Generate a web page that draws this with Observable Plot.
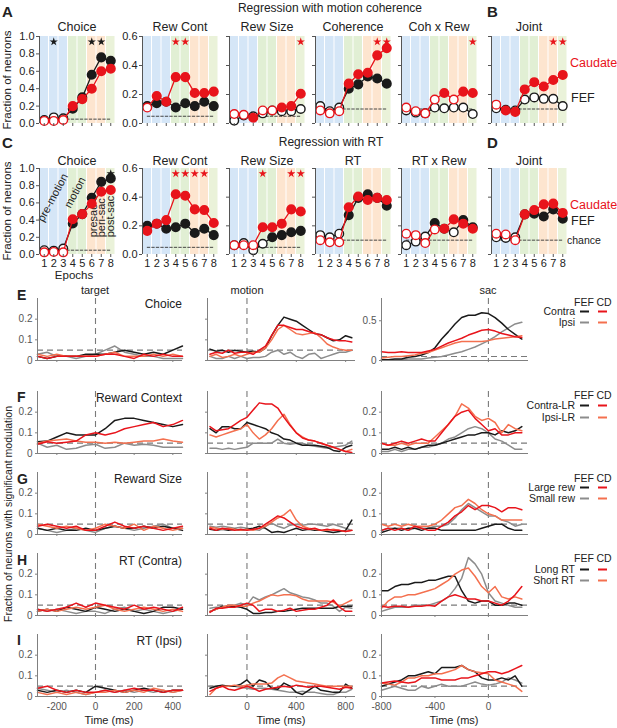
<!DOCTYPE html>
<html><head><meta charset="utf-8">
<script src="https://cdn.jsdelivr.net/npm/d3@7"></script>
<script src="https://cdn.jsdelivr.net/npm/@observablehq/plot@0.6"></script>
<style>
body{margin:0;background:#fff;}
#fig{position:relative;width:617px;height:728px;overflow:hidden;font-family:"Liberation Sans",Arial,Helvetica,sans-serif;}
#fig > div.p{position:absolute;}
#fig > svg.ov{position:absolute;left:0;top:0;}
</style></head><body><div id="fig"></div>
<script>
// ---------------- Epoch panels (A-D) ----------------
const epochs = [1,2,3,4,5,6,7,8];
const bandColors = ["#d5e6f7","#d5e6f7","#d5e6f7","#e1efd4","#e1efd4","#fde5cf","#fde5cf","#eaf2d9"];
const epochText = ["pre-motion","motion","presac","peri-sac","post-sac"];
const chanceA = [0.05,0.05,0.05,0.1,0.1,0.1];
const chanceC = [0.05,0.05,0.05,0.1,0.1,0.1];

const A_choice_fef = [0.04,0.07,0.06,0.17,0.30,0.56,0.76,0.72];
const A_choice_fef_sig = [0,0,0,1,1,1,1,1];
const A_choice_cd = [0.03,0.03,0.04,0.20,0.28,0.40,0.60,0.63];
const A_choice_cd_sig = [0,0,0,1,1,1,1,1];
const A_choice_starsFef = [2,6,7];
const A_choice_starsCd = [];

const A_rewcont_fef = [0.12,0.14,0.15,0.11,0.14,0.12,0.15,0.12];
const A_rewcont_fef_sig = [1,1,1,1,1,1,1,1];
const A_rewcont_cd = [0.11,0.19,0.15,0.32,0.32,0.21,0.21,0.22];
const A_rewcont_cd_sig = [0,1,1,1,1,1,1,1];
const A_rewcont_starsCd = [4,5];

const A_rewsize_fef = [0.02,0.055,0.05,0.07,0.09,0.085,0.085,0.10];
const A_rewsize_fef_sig = [0,0,0,0,0,0,0,0];
const A_rewsize_cd = [0.065,0.06,0.04,0.09,0.09,0.11,0.12,0.205];
const A_rewsize_cd_sig = [0,0,1,0,0,1,1,1];
const A_rewsize_starsCd = [8];

const A_coh_fef = [0.12,0.085,0.11,0.24,0.27,0.325,0.31,0.275];
const A_coh_fef_sig = [0,0,0,1,1,1,1,1];
const A_coh_cd = [0.09,0.07,0.085,0.275,0.34,0.35,0.47,0.52];
const A_coh_cd_sig = [0,0,0,1,1,1,1,1];
const A_coh_starsCd = [7,8];

const A_cohrew_fef = [0.09,0.075,0.07,0.11,0.105,0.11,0.11,0.065];
const A_cohrew_fef_sig = [0,0,0,0,0,0,0,0];
const A_cohrew_cd = [0.11,0.085,0.07,0.165,0.21,0.165,0.22,0.21];
const A_cohrew_cd_sig = [0,0,0,0,1,0,1,1];
const A_cohrew_starsCd = [8];

const B_joint_fef = [0.105,0.095,0.09,0.165,0.18,0.17,0.17,0.12];
const B_joint_fef_sig = [0,0,0,0,0,0,0,0];
const B_joint_cd = [0.13,0.09,0.08,0.235,0.285,0.255,0.30,0.335];
const B_joint_cd_sig = [0,1,1,1,1,1,1,1];
const B_joint_starsCd = [7,8];

const C_choice_fef = [0.05,0.045,0.07,0.36,0.47,0.66,0.845,0.885];
const C_choice_fef_sig = [0,0,0,1,1,1,1,1];
const C_choice_cd = [0.025,0.03,0.025,0.41,0.47,0.59,0.73,0.75];
const C_choice_cd_sig = [0,0,0,1,1,1,1,1];
const C_choice_starsFef = [8];

const C_rewcont_fef = [0.20,0.215,0.18,0.19,0.215,0.15,0.18,0.135];
const C_rewcont_fef_sig = [1,1,1,1,1,1,1,1];
const C_rewcont_cd = [0.165,0.215,0.24,0.42,0.41,0.315,0.31,0.22];
const C_rewcont_cd_sig = [1,1,1,1,1,1,1,1];
const C_rewcont_starsCd = [4,5,6,7];

const C_rewsize_fef = [0.065,0.08,0.03,0.075,0.12,0.135,0.155,0.165];
const C_rewsize_fef_sig = [0,0,0,0,1,1,1,1];
const C_rewsize_cd = [0.065,0.065,0.065,0.19,0.19,0.215,0.315,0.30];
const C_rewsize_cd_sig = [0,0,0,1,1,1,1,1];
const C_rewsize_starsCd = [4,7,8];

const C_rt_fef = [0.135,0.12,0.145,0.275,0.395,0.42,0.395,0.34];
const C_rt_fef_sig = [0,0,0,1,1,1,1,1];
const C_rt_cd = [0.10,0.085,0.085,0.33,0.405,0.38,0.395,0.38];
const C_rt_cd_sig = [0,0,0,1,1,1,1,1];

const C_rtrew_fef = [0.065,0.09,0.125,0.22,0.18,0.155,0.24,0.19];
const C_rtrew_fef_sig = [0,0,0,1,0,0,1,1];
const C_rtrew_cd = [0.145,0.135,0.08,0.175,0.18,0.245,0.215,0.18];
const C_rtrew_cd_sig = [0,0,0,0,1,1,1,1];

const D_joint_fef = [0.12,0.115,0.12,0.28,0.285,0.265,0.315,0.25];
const D_joint_fef_sig = [0,0,0,1,1,1,1,1];
const D_joint_cd = [0.145,0.14,0.10,0.28,0.31,0.35,0.355,0.29];
const D_joint_cd_sig = [0,0,0,1,1,1,1,1];

// ---------------- Time-course panels (E-I) ----------------
const T_tgt = [-300,-250,-200,-150,-100,-50,0,50,100,150,200,250,300,350,400,450];
const T_mot = [-300,-250,-200,-150,-100,-50,0,50,100,150,200,250,300,350,400,450,500,550,600,650,700,750,800,850];
const T_sac = [-800,-750,-700,-650,-600,-550,-500,-450,-400,-350,-300,-250,-200,-150,-100,-50,0,50,100,150,200,250];

// fef1 = FEF contra/LR/large/long, fef2 = FEF ipsi/small/short, cd1, cd2 same for caudate
const E_tgt_fef1 = [0.02,0.01,0.02,0.02,0.02,0.03,0.03,0.03,0.04,0.05,0.04,0.03,0.04,0.03,0.05,0.07];
const E_tgt_fef2 = [0.03,0.04,0.02,0.02,0.01,0.02,0.03,0.05,0.07,0.04,0.03,0.02,0.02,0.01,0.01,0.01];
const E_tgt_cd1 = [0.02,0.01,0.02,0.02,0.02,0.02,0.02,0.03,0.03,0.02,0.01,0.03,0.02,0.03,0.02,0.02];
const E_tgt_cd2 = [0.03,0.02,0.03,0.02,0.02,0.02,0.02,0.03,0.04,0.02,0.02,0.02,0.03,0.02,0.03,0.02];
const E_mot_fef1 = [0.055,0.045,0.05,0.04,0.05,0.045,0.04,0.045,0.04,0.06,0.12,0.17,0.21,0.20,0.19,0.17,0.15,0.13,0.125,0.11,0.095,0.10,0.12,0.11];
const E_mot_fef2 = [0.02,0.01,0.01,0.02,0.01,0.02,0.01,0.015,0.015,0.02,0.04,0.05,0.03,0.04,0.02,0.01,0.03,0.035,0.01,0.02,0.03,0.04,0.04,0.05];
const E_mot_cd1 = [0.03,0.04,0.035,0.05,0.035,0.04,0.04,0.03,0.05,0.07,0.12,0.17,0.17,0.16,0.15,0.15,0.14,0.13,0.125,0.11,0.10,0.095,0.095,0.09];
const E_mot_cd2 = [0.02,0.03,0.015,0.02,0.03,0.02,0.03,0.04,0.04,0.06,0.10,0.15,0.17,0.15,0.13,0.125,0.13,0.135,0.11,0.08,0.065,0.055,0.05,0.05];
const E_sac_fef1 = [0.01,0.01,0.02,0.02,0.04,0.05,0.07,0.10,0.16,0.27,0.36,0.46,0.54,0.57,0.57,0.60,0.59,0.54,0.47,0.39,0.33,0.27];
const E_sac_fef2 = [0.01,0.01,0.01,0.01,0.02,0.02,0.02,0.03,0.04,0.05,0.07,0.09,0.11,0.14,0.17,0.21,0.25,0.30,0.36,0.41,0.46,0.48];
const E_sac_cd1 = [0.11,0.10,0.10,0.11,0.10,0.10,0.10,0.12,0.14,0.18,0.22,0.25,0.28,0.32,0.35,0.38,0.39,0.37,0.34,0.32,0.30,0.29];
const E_sac_cd2 = [0.03,0.04,0.05,0.05,0.06,0.07,0.09,0.10,0.13,0.16,0.19,0.22,0.24,0.24,0.24,0.24,0.25,0.27,0.28,0.29,0.30,0.31];

const F_tgt_fef1 = [0.057,0.06,0.08,0.10,0.09,0.09,0.09,0.12,0.16,0.17,0.17,0.16,0.15,0.14,0.13,0.14];
const F_tgt_fef2 = [0.05,0.03,0.04,0.02,0.025,0.04,0.045,0.025,0.03,0.05,0.04,0.045,0.04,0.03,0.03,0.03];
const F_tgt_cd1 = [0.045,0.057,0.05,0.055,0.06,0.09,0.10,0.09,0.10,0.12,0.13,0.14,0.15,0.13,0.14,0.16];
const F_tgt_cd2 = [0.05,0.06,0.065,0.07,0.06,0.055,0.055,0.05,0.055,0.05,0.055,0.06,0.06,0.07,0.06,0.055];
const F_mot_fef1 = [0.12,0.10,0.13,0.13,0.12,0.12,0.15,0.14,0.13,0.12,0.10,0.09,0.07,0.065,0.05,0.04,0.04,0.04,0.035,0.03,0.015,0.01,0.03,0.04];
const F_mot_fef2 = [0.025,0.025,0.02,0.025,0.02,0.025,0.03,0.05,0.05,0.05,0.05,0.07,0.05,0.045,0.05,0.05,0.04,0.035,0.03,0.025,0.03,0.035,0.04,0.06];
const F_mot_cd1 = [0.13,0.11,0.115,0.12,0.14,0.16,0.175,0.21,0.245,0.24,0.24,0.22,0.175,0.135,0.10,0.075,0.065,0.06,0.05,0.04,0.03,0.02,0.01,0.005];
const F_mot_cd2 = [0.09,0.08,0.09,0.10,0.11,0.12,0.14,0.10,0.07,0.09,0.12,0.16,0.19,0.14,0.10,0.08,0.065,0.06,0.05,0.04,0.03,0.02,0.01,0.02];
const F_sac_fef1 = [0.02,0.02,0.03,0.02,0.03,0.02,0.03,0.04,0.04,0.05,0.06,0.07,0.08,0.09,0.09,0.10,0.10,0.09,0.11,0.10,0.11,0.13];
const F_sac_fef2 = [0.01,0.01,0.02,0.01,0.02,0.02,0.03,0.03,0.04,0.05,0.07,0.08,0.10,0.12,0.13,0.12,0.10,0.07,0.06,0.04,0.02,0.02];
const F_sac_cd1 = [0.05,0.04,0.05,0.06,0.05,0.06,0.07,0.06,0.06,0.10,0.14,0.18,0.20,0.21,0.17,0.14,0.11,0.12,0.09,0.09,0.10,0.10];
const F_sac_cd2 = [0.05,0.04,0.04,0.05,0.04,0.05,0.05,0.05,0.08,0.11,0.14,0.18,0.24,0.22,0.18,0.16,0.17,0.15,0.10,0.14,0.12,0.11];

const G_tgt_fef1 = [0.03,0.02,0.03,0.02,0.02,0.03,0.02,0.03,0.04,0.03,0.03,0.04,0.03,0.04,0.03,0.02];
const G_tgt_fef2 = [0.03,0.02,0.01,0.02,0.03,0.02,0.01,0.03,0.04,0.03,0.02,0.03,0.04,0.05,0.03,0.03];
const G_tgt_cd1 = [0.04,0.05,0.04,0.03,0.04,0.02,0.02,0.04,0.06,0.04,0.03,0.04,0.03,0.02,0.03,0.04];
const G_tgt_cd2 = [0.05,0.04,0.03,0.04,0.03,0.02,0.03,0.05,0.04,0.03,0.05,0.02,0.04,0.03,0.02,0.03];
const G_mot_fef1 = [0.025,0.02,0.025,0.02,0.025,0.02,0.025,0.03,0.04,0.03,0.01,0.015,0.01,0.02,0.03,0.02,0.025,0.02,0.02,0.015,0.01,0.015,0.02,0.07];
const G_mot_fef2 = [0.04,0.035,0.04,0.035,0.03,0.035,0.03,0.025,0.02,0.04,0.055,0.04,0.03,0.045,0.05,0.045,0.05,0.05,0.045,0.04,0.05,0.04,0.03,0.02];
const G_mot_cd1 = [0.03,0.02,0.03,0.025,0.02,0.025,0.02,0.025,0.03,0.05,0.07,0.09,0.08,0.06,0.04,0.03,0.025,0.03,0.02,0.025,0.02,0.02,0.015,0.02];
const G_mot_cd2 = [0.035,0.03,0.025,0.03,0.025,0.02,0.025,0.02,0.03,0.04,0.06,0.08,0.095,0.12,0.07,0.04,0.03,0.025,0.02,0.02,0.025,0.02,0.015,0.02];
const G_sac_fef1 = [0.01,0.02,0.03,0.02,0.03,0.03,0.02,0.03,0.03,0.02,0.02,0.02,0.02,0.02,0.02,0.03,0.04,0.05,0.05,0.03,0.02,0.02];
const G_sac_fef2 = [0.02,0.03,0.03,0.03,0.02,0.03,0.03,0.03,0.04,0.04,0.05,0.08,0.12,0.15,0.13,0.11,0.09,0.09,0.07,0.06,0.04,0.05];
const G_sac_cd1 = [0.02,0.03,0.02,0.03,0.02,0.04,0.03,0.02,0.02,0.04,0.06,0.09,0.11,0.14,0.12,0.14,0.14,0.13,0.11,0.13,0.13,0.12];
const G_sac_cd2 = [0.05,0.04,0.05,0.04,0.05,0.04,0.04,0.04,0.05,0.07,0.10,0.13,0.14,0.17,0.15,0.12,0.10,0.09,0.07,0.07,0.07,0.07];

const H_tgt_fef1 = [0.02,0.03,0.02,0.04,0.03,0.02,0.04,0.03,0.02,0.03,0.02,0.01,0.02,0.04,0.04,0.03];
const H_tgt_fef2 = [0.03,0.02,0.03,0.02,0.01,0.02,0.02,0.01,0.03,0.04,0.02,0.03,0.02,0.01,0.02,0.03];
const H_tgt_cd1 = [0.03,0.02,0.03,0.04,0.06,0.04,0.06,0.05,0.04,0.03,0.05,0.03,0.04,0.03,0.02,0.04];
const H_tgt_cd2 = [0.02,0.03,0.02,0.03,0.04,0.03,0.04,0.05,0.03,0.02,0.03,0.04,0.03,0.02,0.03,0.02];
const H_mot_fef1 = [0.02,0.03,0.045,0.04,0.045,0.04,0.03,0.01,0.01,0.015,0.015,0.02,0.02,0.025,0.03,0.035,0.035,0.035,0.035,0.035,0.035,0.045,0.045,0.045];
const H_mot_fef2 = [0.035,0.04,0.04,0.05,0.05,0.06,0.05,0.09,0.075,0.09,0.10,0.115,0.13,0.11,0.10,0.09,0.085,0.075,0.06,0.06,0.045,0.02,0.04,0.035];
const H_mot_cd1 = [0.015,0.035,0.035,0.04,0.04,0.05,0.06,0.05,0.02,0.03,0.03,0.02,0.025,0.035,0.02,0.025,0.03,0.03,0.04,0.05,0.075,0.04,0.02,0.02];
const H_mot_cd2 = [0.02,0.03,0.04,0.05,0.05,0.045,0.045,0.06,0.07,0.085,0.10,0.095,0.10,0.10,0.095,0.08,0.07,0.07,0.07,0.07,0.065,0.045,0.06,0.075];
const H_sac_fef1 = [0.12,0.12,0.14,0.15,0.15,0.16,0.16,0.17,0.17,0.18,0.19,0.19,0.12,0.07,0.06,0.07,0.07,0.05,0.05,0.06,0.06,0.05];
const H_sac_fef2 = [0.02,0.03,0.04,0.04,0.04,0.05,0.05,0.05,0.06,0.07,0.09,0.13,0.18,0.28,0.25,0.20,0.11,0.07,0.06,0.05,0.04,0.04];
const H_sac_cd1 = [0.045,0.04,0.045,0.045,0.04,0.045,0.045,0.05,0.045,0.07,0.09,0.10,0.09,0.08,0.08,0.07,0.07,0.06,0.05,0.07,0.10,0.14];
const H_sac_cd2 = [0.035,0.07,0.09,0.09,0.10,0.10,0.11,0.12,0.13,0.15,0.17,0.20,0.22,0.23,0.19,0.14,0.11,0.14,0.09,0.08,0.09,0.08];

const I_tgt_fef1 = [0.03,0.02,0.03,0.02,0.03,0.02,0.05,0.04,0.03,0.02,0.03,0.04,0.03,0.02,0.03,0.03];
const I_tgt_fef2 = [0.04,0.03,0.02,0.03,0.02,0.01,0.02,0.03,0.02,0.03,0.02,0.03,0.02,0.03,0.02,0.03];
const I_tgt_cd1 = [0.04,0.05,0.03,0.02,0.03,0.02,0.02,0.03,0.02,0.03,0.04,0.03,0.03,0.02,0.03,0.03];
const I_tgt_cd2 = [0.02,0.01,0.02,0.01,0.02,0.01,0.02,0.02,0.03,0.02,0.03,0.02,0.04,0.03,0.02,0.03];
const I_mot_fef1 = [0.04,0.05,0.055,0.05,0.05,0.06,0.08,0.05,0.08,0.07,0.04,0.035,0.065,0.05,0.02,0.01,0.03,0.05,0.03,0.025,0.02,0.02,0.06,0.04];
const I_mot_fef2 = [0.05,0.05,0.05,0.05,0.05,0.045,0.04,0.035,0.04,0.04,0.035,0.03,0.025,0.02,0.02,0.025,0.02,0.02,0.015,0.01,0.01,0.02,0.02,0.035];
const I_mot_cd1 = [0.025,0.04,0.05,0.035,0.03,0.04,0.05,0.04,0.025,0.035,0.04,0.045,0.05,0.045,0.055,0.05,0.045,0.05,0.05,0.045,0.04,0.035,0.045,0.04];
const I_mot_cd2 = [0.01,0.04,0.05,0.05,0.055,0.05,0.055,0.06,0.06,0.06,0.065,0.09,0.105,0.09,0.075,0.07,0.065,0.06,0.055,0.05,0.05,0.05,0.05,0.05];
const I_sac_fef1 = [0.05,0.06,0.07,0.08,0.10,0.10,0.11,0.12,0.11,0.14,0.14,0.14,0.15,0.13,0.12,0.09,0.08,0.08,0.09,0.08,0.10,0.05];
const I_sac_fef2 = [0.03,0.04,0.05,0.04,0.03,0.03,0.05,0.04,0.05,0.06,0.05,0.05,0.05,0.06,0.07,0.06,0.055,0.06,0.07,0.09,0.08,0.065];
const I_sac_cd1 = [0.065,0.07,0.075,0.07,0.065,0.07,0.09,0.09,0.09,0.08,0.08,0.08,0.09,0.09,0.10,0.11,0.12,0.12,0.11,0.12,0.135,0.15];
const I_sac_cd2 = [0.065,0.06,0.055,0.07,0.09,0.09,0.10,0.10,0.11,0.11,0.12,0.13,0.15,0.13,0.12,0.115,0.11,0.08,0.07,0.06,0.05,0.025];

const rowTitles = ["Choice","Reward Context","Reward Size","RT (Contra)","RT (Ipsi)"];
const legendLabels = [["Contra","Ipsi"],["Contra-LR","Ipsi-LR"],["Large rew","Small rew"],["Long RT","Short RT"]];

// ---------------- drawing ----------------
const FONT = '"Liberation Sans", Arial, Helvetica, sans-serif';
const BLK = "#1a1a1a", RED = "#e8141b", GRY = "#8c8c8c", SAL = "#f4704f";
const fig = document.getElementById("fig");
function place(node, x, y){ const d=document.createElement("div"); d.className="p"; d.style.left=x+"px"; d.style.top=y+"px"; d.appendChild(node); fig.appendChild(d); }
const baseStyle = {fontFamily: FONT, fontSize: "11px", background: "transparent", overflow: "visible", color: "#222"};

const panelLefts = [39,142,229,315,401,491];
function epochPanel(p){
  const ml=30, mr=6, mt=8, mb=22, W=76;
  const fefD = epochs.map((e,i)=>({e, v:p.fef[i], s:p.fefSig[i]}));
  const cdD = epochs.map((e,i)=>({e, v:p.cd[i], s:p.cdSig[i]}));
  const bands = epochs.map((e,i)=>({e, c:bandColors[i]}));
  const sy = p.yMax*0.94;
  const chart = Plot.plot({
    width: W+ml+mr, height: p.h+mt+mb, marginLeft: ml, marginRight: mr, marginTop: mt, marginBottom: mb,
    x: {domain:[0.5,8.5]}, y: {domain:[0,p.yMax]}, style: baseStyle,
    marks: [
      Plot.rect(bands, {x1: d=>d.e-0.5, x2: d=>d.e+0.5, y1: ()=>0, y2: ()=>p.yMax, fill: d=>d.c, insetLeft: 0.5, insetRight: 0.5}),
      ...(p.annot || []),
      Plot.line([[1,p.chance],[8,p.chance]], {stroke:"#333", strokeWidth:0.9, strokeDasharray:"2.5,2"}),
      Plot.line(fefD, {x:"e", y:"v", stroke:BLK, strokeWidth:1.3}),
      Plot.dot(fefD.filter(d=>d.s), {x:"e", y:"v", r:4.3, fill:BLK, stroke:BLK}),
      Plot.dot(fefD.filter(d=>!d.s), {x:"e", y:"v", r:4.3, fill:"white", stroke:BLK, strokeWidth:1.4}),
      Plot.line(cdD, {x:"e", y:"v", stroke:RED, strokeWidth:1.3}),
      Plot.dot(cdD.filter(d=>d.s), {x:"e", y:"v", r:4.3, fill:RED, stroke:RED}),
      Plot.dot(cdD.filter(d=>!d.s), {x:"e", y:"v", r:4.3, fill:"white", stroke:RED, strokeWidth:1.4}),
      Plot.dot((p.starsFef||[]).map(e=>({e})), {x:"e", y:()=>sy, symbol:"star", r:2.6, fill:BLK, stroke:"none"}),
      Plot.dot((p.starsCd||[]).map(e=>({e})), {x:"e", y:()=>sy, symbol:"star", r:2.6, fill:RED, stroke:"none"}),
      Plot.ruleX([0.5], {stroke:"#555", strokeWidth:1}),
      Plot.axisY({ticks:p.yTicks, tickSize:3, tickPadding:2, tickFormat: p.yLabels ? d3.format(".1f") : ()=>"", label:null, fontSize:11, stroke:"#555"}),
      Plot.axisX({ticks:epochs, tickSize:3, tickPadding:2, tickFormat: p.xLabels ? d=>String(d) : ()=>"", label:null, fontSize:11, stroke:"#555"})
    ]
  });
  place(chart, p.left-ml, p.top-mt);
}

const rowA = {top:36, h:87}, rowC = {top:168, h:86};
const t06 = [0,0.2,0.4,0.6], t10 = [0,0.2,0.4,0.6,0.8,1];
const epochAnnot = [
  Plot.text([{e:1.9, v:0.66, t:epochText[0]}], {x:"e", y:"v", text:"t", rotate:-62, fontSize:11, fill:"#222"}),
  Plot.text([{e:4.25, v:0.72, t:epochText[1]}], {x:"e", y:"v", text:"t", rotate:-62, fontSize:11, fill:"#222"}),
  Plot.text([{e:6.15, v:0.2, t:epochText[2]},{e:7.0, v:0.2, t:epochText[3]},{e:7.97, v:0.2, t:epochText[4]}], {x:"e", y:"v", text:"t", rotate:-90, textAnchor:"start", fontSize:11, fill:"#222"})
];
const topPanels = [
  {row:rowA, c:0, fef:A_choice_fef, fefSig:A_choice_fef_sig, cd:A_choice_cd, cdSig:A_choice_cd_sig, yMax:1, yTicks:t10, yLabels:true, chance:chanceA[0], starsFef:A_choice_starsFef, starsCd:A_choice_starsCd},
  {row:rowA, c:1, fef:A_rewcont_fef, fefSig:A_rewcont_fef_sig, cd:A_rewcont_cd, cdSig:A_rewcont_cd_sig, yMax:0.6, yTicks:t06, yLabels:true, chance:chanceA[1], starsCd:A_rewcont_starsCd},
  {row:rowA, c:2, fef:A_rewsize_fef, fefSig:A_rewsize_fef_sig, cd:A_rewsize_cd, cdSig:A_rewsize_cd_sig, yMax:0.6, yTicks:t06, chance:chanceA[2], starsCd:A_rewsize_starsCd},
  {row:rowA, c:3, fef:A_coh_fef, fefSig:A_coh_fef_sig, cd:A_coh_cd, cdSig:A_coh_cd_sig, yMax:0.6, yTicks:t06, chance:chanceA[3], starsCd:A_coh_starsCd},
  {row:rowA, c:4, fef:A_cohrew_fef, fefSig:A_cohrew_fef_sig, cd:A_cohrew_cd, cdSig:A_cohrew_cd_sig, yMax:0.6, yTicks:t06, chance:chanceA[4], starsCd:A_cohrew_starsCd},
  {row:rowA, c:5, fef:B_joint_fef, fefSig:B_joint_fef_sig, cd:B_joint_cd, cdSig:B_joint_cd_sig, yMax:0.6, yTicks:t06, chance:chanceA[5], starsCd:B_joint_starsCd},
  {row:rowC, c:0, fef:C_choice_fef, fefSig:C_choice_fef_sig, cd:C_choice_cd, cdSig:C_choice_cd_sig, yMax:1, yTicks:t10, yLabels:true, xLabels:true, chance:chanceC[0], starsFef:C_choice_starsFef, annot:epochAnnot},
  {row:rowC, c:1, fef:C_rewcont_fef, fefSig:C_rewcont_fef_sig, cd:C_rewcont_cd, cdSig:C_rewcont_cd_sig, yMax:0.6, yTicks:t06, yLabels:true, xLabels:true, chance:chanceC[1], starsCd:C_rewcont_starsCd},
  {row:rowC, c:2, fef:C_rewsize_fef, fefSig:C_rewsize_fef_sig, cd:C_rewsize_cd, cdSig:C_rewsize_cd_sig, yMax:0.6, yTicks:t06, xLabels:true, chance:chanceC[2], starsCd:C_rewsize_starsCd},
  {row:rowC, c:3, fef:C_rt_fef, fefSig:C_rt_fef_sig, cd:C_rt_cd, cdSig:C_rt_cd_sig, yMax:0.6, yTicks:t06, xLabels:true, chance:chanceC[3]},
  {row:rowC, c:4, fef:C_rtrew_fef, fefSig:C_rtrew_fef_sig, cd:C_rtrew_cd, cdSig:C_rtrew_cd_sig, yMax:0.6, yTicks:t06, xLabels:true, chance:chanceC[4]},
  {row:rowC, c:5, fef:D_joint_fef, fefSig:D_joint_fef_sig, cd:D_joint_cd, cdSig:D_joint_cd_sig, yMax:0.6, yTicks:t06, xLabels:true, chance:chanceC[5]}
];
topPanels.forEach(p => epochPanel({...p, left: panelLefts[p.c], top: p.row.top, h: p.row.h}));

// time-course panels
const colLeft = [37,207,381], colW = [145,148,147];
const colDomain = [[-300,450],[-320,880],[-800,300]];
const colXTicks = [[-200,0,200,400],[0,400,800],[-800,-400,0]];
const colT = [T_tgt, T_mot, T_sac];
const rowTop = [298,391,472,553,634];
const timeData = [
  [[E_tgt_fef1,E_tgt_fef2,E_tgt_cd1,E_tgt_cd2],[E_mot_fef1,E_mot_fef2,E_mot_cd1,E_mot_cd2],[E_sac_fef1,E_sac_fef2,E_sac_cd1,E_sac_cd2]],
  [[F_tgt_fef1,F_tgt_fef2,F_tgt_cd1,F_tgt_cd2],[F_mot_fef1,F_mot_fef2,F_mot_cd1,F_mot_cd2],[F_sac_fef1,F_sac_fef2,F_sac_cd1,F_sac_cd2]],
  [[G_tgt_fef1,G_tgt_fef2,G_tgt_cd1,G_tgt_cd2],[G_mot_fef1,G_mot_fef2,G_mot_cd1,G_mot_cd2],[G_sac_fef1,G_sac_fef2,G_sac_cd1,G_sac_cd2]],
  [[H_tgt_fef1,H_tgt_fef2,H_tgt_cd1,H_tgt_cd2],[H_mot_fef1,H_mot_fef2,H_mot_cd1,H_mot_cd2],[H_sac_fef1,H_sac_fef2,H_sac_cd1,H_sac_cd2]],
  [[I_tgt_fef1,I_tgt_fef2,I_tgt_cd1,I_tgt_cd2],[I_mot_fef1,I_mot_fef2,I_mot_cd1,I_mot_cd2],[I_sac_fef1,I_sac_fef2,I_sac_cd1,I_sac_cd2]]
];
function timePanel(r, c){
  const ml=28, mr=4, mt=4, mb=16, H=62;
  const [f1,f2,c1,c2] = timeData[r][c];
  const T = colT[c];
  const yMax = (r===0 && c===2) ? 0.78 : 0.3;
  const yTicks = (r===0 && c===2) ? [0,0.5] : [0,0.1,0.2];
  const mk = v => T.map((t,i)=>({t, v:v[i]}));
  const chart = Plot.plot({
    width: colW[c]+ml+mr, height: H+mt+mb, marginLeft: ml, marginRight: mr, marginTop: mt, marginBottom: mb,
    x: {domain: colDomain[c]}, y: {domain:[0,yMax]}, style: baseStyle,
    marks: [
      Plot.ruleY([0.05], {stroke:"#7a7a7a", strokeWidth:1.1, strokeDasharray:"6,4"}),
      Plot.ruleX([0], {stroke:"#7a7a7a", strokeWidth:1.1, strokeDasharray:"6,4"}),
      Plot.line(mk(f2), {x:"t", y:"v", stroke:GRY, strokeWidth:1.5}),
      Plot.line(mk(f1), {x:"t", y:"v", stroke:BLK, strokeWidth:1.5}),
      Plot.line(mk(c2), {x:"t", y:"v", stroke:SAL, strokeWidth:1.5}),
      Plot.line(mk(c1), {x:"t", y:"v", stroke:RED, strokeWidth:1.5}),
      Plot.ruleY([0], {stroke:"#808080", strokeWidth:1}),
      Plot.ruleX([colDomain[c][0]], {stroke:"#808080", strokeWidth:1}),
      Plot.axisY({ticks:yTicks, tickSize:2, tickPadding:3, tickFormat: c!==1 ? d=>String(d) : ()=>"", label:null, fontSize:10, stroke:"#808080", fill:"#555"}),
      Plot.axisX({ticks:colXTicks[c], tickSize:2, tickPadding:4, tickFormat: r===4 ? d=>String(d) : ()=>"", label:null, fontSize:10, stroke:"#808080", fill:"#555"})
    ]
  });
  place(chart, colLeft[c]-ml, rowTop[r]-mt);
}
for (let r=0;r<5;r++) for (let c=0;c<3;c++) timePanel(r,c);

// ---------------- text overlay ----------------
const NS = "http://www.w3.org/2000/svg";
const ov = document.createElementNS(NS,"svg");
ov.setAttribute("class","ov"); ov.setAttribute("width",617); ov.setAttribute("height",728);
ov.style.fontFamily = FONT;
function txt(x,y,s,o={}){
  const t=document.createElementNS(NS,"text");
  t.setAttribute("x",x); t.setAttribute("y",y);
  t.setAttribute("font-size",o.size||12);
  t.setAttribute("text-anchor",o.anchor||"start");
  t.setAttribute("fill",o.fill||"#222");
  if(o.bold) t.setAttribute("font-weight","bold");
  if(o.rot) t.setAttribute("transform",`rotate(${o.rot},${x},${y})`);
  t.textContent=s; ov.appendChild(t);
}
function seg(x1,x2,y,col){ const l=document.createElementNS(NS,"line"); l.setAttribute("x1",x1); l.setAttribute("x2",x2); l.setAttribute("y1",y); l.setAttribute("y2",y); l.setAttribute("stroke",col); l.setAttribute("stroke-width",2); ov.appendChild(l); }

txt(2,17,"A",{size:15,bold:true});
txt(330,12,"Regression with motion coherence",{anchor:"middle",size:12});
txt(487,17,"B",{size:15,bold:true});
const titlesA = ["Choice","Rew Cont","Rew Size","Coherence","Coh x Rew","Joint"];
const titlesC = ["Choice","Rew Cont","Rew Size","RT","RT x Rew","Joint"];
titlesA.forEach((s,i)=>txt(panelLefts[i]+38,31,s,{anchor:"middle",size:12.5}));
titlesC.forEach((s,i)=>txt(panelLefts[i]+38,165,s,{anchor:"middle",size:12.5}));
txt(570,67,"Caudate",{size:12.5,fill:RED});
txt(571,102,"FEF",{size:12.5});
txt(11,80,"Fraction of neurons",{anchor:"middle",size:11.5,rot:-90});
txt(2,148,"C",{size:15,bold:true});
txt(331,146,"Regression with RT",{anchor:"middle",size:12});
txt(487,148,"D",{size:15,bold:true});
txt(570,209,"Caudate",{size:12.5,fill:RED});
txt(571,225,"FEF",{size:12.5});
txt(567,244,"chance",{size:10.5});
txt(11,211,"Fraction of neurons",{anchor:"middle",size:11.5,rot:-90});
txt(74,279,"Epochs",{anchor:"middle",size:11.5});

txt(95,294,"target",{anchor:"middle",size:11});
txt(247,294,"motion",{anchor:"middle",size:11});
txt(488,294,"sac",{anchor:"middle",size:11});
const letters = ["E","F","G","H","I"], letterY = [300,402,484,565,645], titleY = [308,402,483,565,645];
letters.forEach((s,i)=>txt(17,letterY[i],s,{size:14,bold:true}));
rowTitles.forEach((s,i)=>txt(182,titleY[i],s,{anchor:"end",size:12}));
const legY = [[306,315,326],[399,409,421],[482,491,502],[562,573,584]];
legendLabels.forEach((labs,i)=>{
  const [y0,y1,y2] = legY[i];
  txt(584,y0,"FEF",{anchor:"middle",size:10.5});
  txt(604,y0,"CD",{anchor:"middle",size:10.5});
  txt(575,y1,labs[0],{anchor:"end",size:10.5});
  txt(575,y2,labs[1],{anchor:"end",size:10.5});
  seg(580,589,y1-3.5,BLK); seg(598,607,y1-3.5,RED);
  seg(580,589,y2-3.5,GRY); seg(598,607,y2-3.5,SAL);
});
txt(12,514,"Fraction of neurons with significant modulation",{anchor:"middle",size:10.5,rot:-90});
[109,281,454].forEach(x=>txt(x,724,"Time (ms)",{anchor:"middle",size:11}));
fig.appendChild(ov);
</script></body></html>
